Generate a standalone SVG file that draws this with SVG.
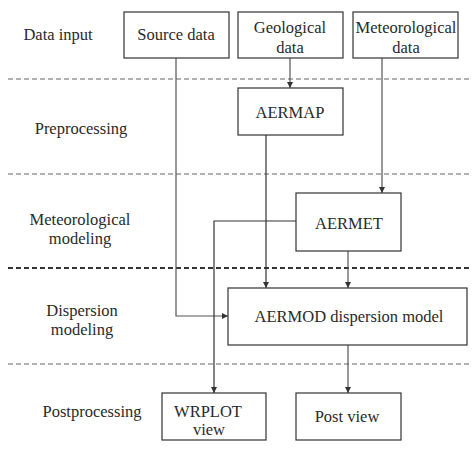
<svg xmlns="http://www.w3.org/2000/svg" width="474" height="449" viewBox="0 0 474 449">
<style>
text{font-family:"Liberation Serif","Times New Roman",serif;font-size:16.5px;fill:#2a2a2a;text-anchor:middle}
.box{fill:#fff;stroke:#333;stroke-width:1.2}
.dash{stroke:#666;stroke-width:1.2;stroke-dasharray:5 3;fill:none}
.dash2{stroke:#333;stroke-width:1.8;stroke-dasharray:5 3;fill:none}
.c{stroke:#555;stroke-width:1.2;fill:none;marker-end:url(#ah)}
</style>
<defs>
<marker id="ah" viewBox="0 0 10 10" refX="10" refY="5" markerWidth="6" markerHeight="6" markerUnits="userSpaceOnUse" orient="auto">
<path d="M0,0 L10,5 L0,10 z" fill="#333"/>
</marker>
</defs>
<rect width="474" height="449" fill="#fff"/>
<g id="lanes">
<line class="dash" x1="8" y1="79" x2="472" y2="79"/>
<line class="dash" x1="8" y1="174" x2="472" y2="174"/>
<line class="dash2" x1="8" y1="268" x2="472" y2="268"/>
<line class="dash" x1="8" y1="364" x2="472" y2="364"/>
<text x="58" y="40">Data input</text>
<text x="81" y="134">Preprocessing</text>
<text x="80" y="225">Meteorological</text>
<text x="80" y="244">modeling</text>
<text x="82" y="316">Dispersion</text>
<text x="82" y="335">modeling</text>
<text x="92" y="417">Postprocessing</text>
</g>
<g id="connectors">
<path class="c" d="M176,58 V316 H228"/>
<path class="c" d="M290,58 V88"/>
<path class="c" d="M266,135 V288" style="stroke:#333"/>
<path class="c" d="M382,58 V193"/>
<path class="c" d="M296,221 H214 V393" style="stroke:#333"/>
<path class="c" d="M348,251 V288"/>
<path class="c" d="M348,345 V393"/>
</g>
<g id="source"><rect class="box" x="124" y="12" width="105" height="46"/><text x="176" y="40">Source data</text></g>
<g id="geological"><rect class="box" x="238" y="12" width="105" height="46"/><text x="290" y="33">Geological</text><text x="290" y="53">data</text></g>
<g id="meteorological"><rect class="box" x="353" y="12" width="105" height="46"/><text x="406" y="33">Meteorological</text><text x="406" y="53">data</text></g>
<g id="aermap"><rect class="box" x="238" y="88" width="105" height="47"/><text x="290" y="118">AERMAP</text></g>
<g id="aermet"><rect class="box" x="296" y="193" width="105" height="58"/><text x="349" y="229">AERMET</text></g>
<g id="aermod"><rect class="box" x="228" y="288" width="239" height="57"/><text x="349" y="322">AERMOD dispersion model</text></g>
<g id="wrplot"><rect class="box" x="162" y="393" width="104" height="47"/><text x="208" y="417">WRPLOT</text><text x="209" y="435">view</text></g>
<g id="postview"><rect class="box" x="296" y="393" width="105" height="47"/><text x="347" y="422">Post view</text></g>
</svg>
